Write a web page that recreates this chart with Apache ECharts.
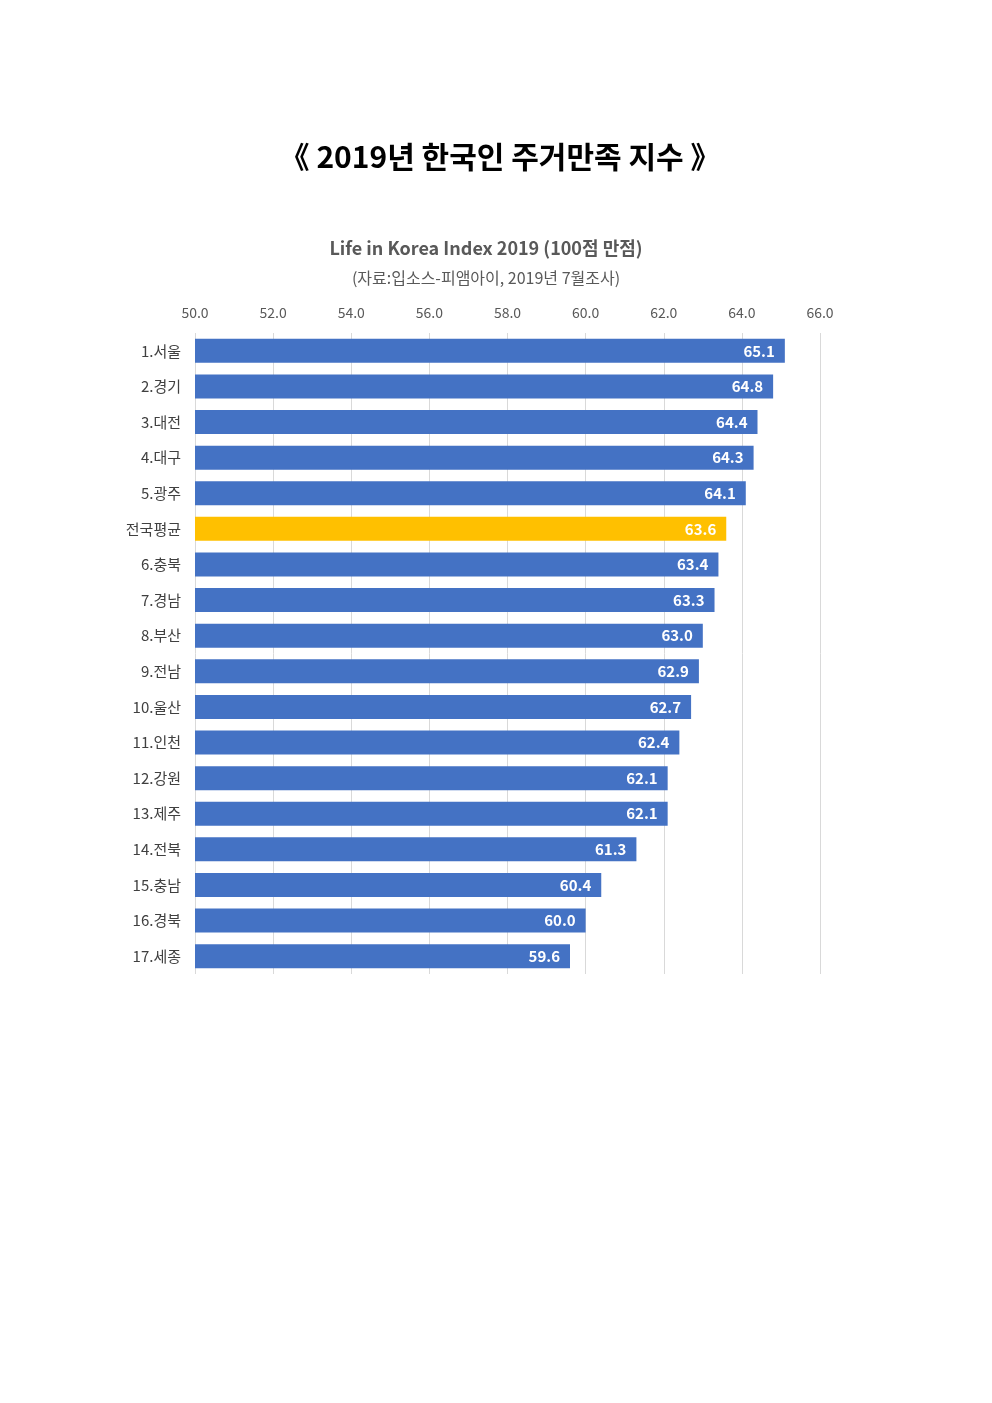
<!DOCTYPE html>
<html>
<head>
<meta charset="utf-8">
<script src="https://cdn.jsdelivr.net/npm/echarts@6/dist/echarts.min.js"></script>
<style>
html,body{margin:0;padding:0;background:#fff;}
#chart{width:992px;height:1403px;}
</style>
</head>
<body>
<div id="chart"></div>
<script>
// 지역별 주거만족 지수 (위에서부터 순서대로)
var regions = ['1.서울','2.경기','3.대전','4.대구','5.광주','전국평균','6.충북','7.경남','8.부산','9.전남','10.울산','11.인천','12.강원','13.제주','14.전북','15.충남','16.경북','17.세종'];
var scores = [65.1, 64.8, 64.4, 64.3, 64.1, 63.6, 63.4, 63.3, 63.0, 62.9, 62.7, 62.4, 62.1, 62.1, 61.3, 60.4, 60.0, 59.6];
var axisMin = 50, axisMax = 66, axisStep = 2;
var avgName = '전국평균';

var font = '"Noto Sans CJK KR", "Noto Sans", sans-serif';
var blue = '#4472C4', yellow = '#FFC000', gray = '#595959';

var barData = scores.map(function (v, i) {
    var item = {value: v};
    if (regions[i] === avgName) item.itemStyle = {color: yellow};  //전국평균만 노란색
    return item;
});

var myChart = echarts.init(document.getElementById('chart'));
myChart.setOption({
    backgroundColor: '#fff',
    animation: false,
    title: [
        {
            text: '《 2019년 한국인 주거만족 지수 》',
            left: 495, top: 137, textAlign: 'center',
            textStyle: {fontFamily: font, fontSize: 30, fontWeight: 'bold', color: '#000'}
        },
        {
            text: 'Life in Korea Index 2019 (100점 만점)',
            left: 481, top: 234, textAlign: 'center',
            textStyle: {fontFamily: font, fontSize: 18, fontWeight: 'bold', color: gray}
        },
        {
            text: '(자료:입소스-피앰아이, 2019년 7월조사)',
            left: 481, top: 265, textAlign: 'center',
            textStyle: {fontFamily: font, fontSize: 16, fontWeight: 'normal', color: gray}
        }
    ],
    grid: {left: 195, right: 172, top: 333, bottom: 429, containLabel: false},
    xAxis: {
        type: 'value',
        position: 'top',
        min: axisMin, max: axisMax, interval: axisStep,
        axisLine: {show: false},
        axisTick: {show: false},
        axisLabel: {
            margin: 13,
            color: gray, fontFamily: font, fontSize: 14,
            formatter: function (v) { return v.toFixed(1); }
        },
        splitLine: {show: true, lineStyle: {color: '#d9d9d9', width: 1}}
    },
    yAxis: {
        type: 'category',
        inverse: true,
        data: regions,
        axisLine: {show: false},
        axisTick: {show: false},
        axisLabel: {margin: 14, color: '#404040', fontFamily: font, fontSize: 15}
    },
    series: [{
        type: 'bar',
        data: barData,
        barWidth: 24,
        itemStyle: {color: blue},
        label: {
            show: true,
            position: 'insideRight',
            distance: 10,
            color: '#fff',
            fontFamily: font, fontSize: 15, fontWeight: 'bold',
            formatter: function (p) { return p.value.toFixed(1); }
        }
    }]
});
</script>
</body>
</html>
